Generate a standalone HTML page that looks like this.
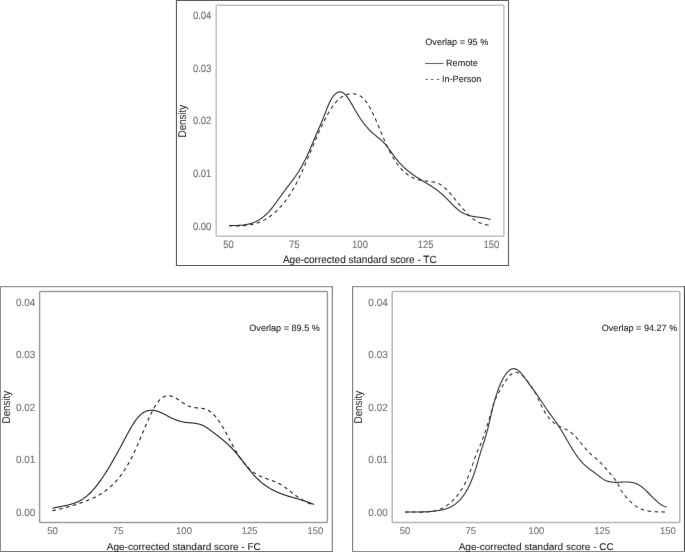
<!DOCTYPE html><html><head><meta charset="utf-8"><style>html,body{margin:0;padding:0;background:#fff;}svg{display:block;will-change:transform;}text{font-family:"Liberation Sans", sans-serif;text-rendering:geometricPrecision;}</style></head><body>
<svg width="685" height="552" viewBox="0 0 685 552">
<defs><filter id="bl" x="-2%" y="-2%" width="104%" height="104%" filterUnits="objectBoundingBox"><feConvolveMatrix order="3" kernelMatrix="0.00163 0.03713 0.00163 0.03713 0.84497 0.03713 0.00163 0.03713 0.00163" edgeMode="duplicate" preserveAlpha="false"/></filter></defs>
<rect x="0" y="0" width="685" height="552" fill="#fff"/>
<line x1="176.45" y1="0.0" x2="176.45" y2="265.95" stroke="#5e5e5e" stroke-width="1.15"/>
<line x1="175.95" y1="0.5" x2="509.0" y2="0.5" stroke="#5e5e5e" stroke-width="1.15"/>
<line x1="508.5" y1="0.0" x2="508.5" y2="265.95" stroke="#686868" stroke-width="1.15"/>
<line x1="175.95" y1="265.45" x2="509.0" y2="265.45" stroke="#5a5a5a" stroke-width="1.15"/>
<rect x="216.2" y="5.2" width="287.70" height="231.00" fill="none" stroke="#c2c2c2" stroke-width="1.5" rx="0.9"/>
<line x1="0.45" y1="286.1" x2="0.45" y2="552.0" stroke="#8e8e8e" stroke-width="1.15"/>
<line x1="-0.04999999999999999" y1="286.6" x2="332.8" y2="286.6" stroke="#989898" stroke-width="1.15"/>
<line x1="332.3" y1="286.1" x2="332.3" y2="552.0" stroke="#808080" stroke-width="1.15"/>
<line x1="-0.04999999999999999" y1="551.5" x2="332.8" y2="551.5" stroke="#7a7a7a" stroke-width="1.15"/>
<rect x="39.6" y="291.5" width="287.80" height="230.90" fill="none" stroke="#9e9e9e" stroke-width="1.5" rx="0.9"/>
<line x1="352.6" y1="286.1" x2="352.6" y2="552.0" stroke="#808080" stroke-width="1.15"/>
<line x1="352.1" y1="286.6" x2="685.0" y2="286.6" stroke="#989898" stroke-width="1.15"/>
<line x1="684.5" y1="286.1" x2="684.5" y2="552.0" stroke="#484848" stroke-width="1.15"/>
<line x1="352.1" y1="551.5" x2="685.0" y2="551.5" stroke="#8e8e8e" stroke-width="1.15"/>
<rect x="392.2" y="291.45" width="287.60" height="230.95" fill="none" stroke="#b8b8b8" stroke-width="1.5" rx="0.9"/>
<g filter="url(#bl)">
<g transform="translate(176,0)">
<text transform="translate(35.40,229.50) scale(1.0,1.12)" font-size="9.5" fill="#707070" stroke="#707070" stroke-width="0.1" text-anchor="end">0.00</text>
<text transform="translate(35.40,176.90) scale(1.0,1.12)" font-size="9.5" fill="#707070" stroke="#707070" stroke-width="0.1" text-anchor="end">0.01</text>
<text transform="translate(35.40,124.40) scale(1.0,1.12)" font-size="9.5" fill="#707070" stroke="#707070" stroke-width="0.1" text-anchor="end">0.02</text>
<text transform="translate(35.40,71.80) scale(1.0,1.12)" font-size="9.5" fill="#707070" stroke="#707070" stroke-width="0.1" text-anchor="end">0.03</text>
<text transform="translate(35.40,19.20) scale(1.0,1.12)" font-size="9.5" fill="#707070" stroke="#707070" stroke-width="0.1" text-anchor="end">0.04</text>
<text transform="translate(52.60,248.00) scale(1.0,1.12)" font-size="9.5" fill="#707070" stroke="#707070" stroke-width="0.1" text-anchor="middle">50</text>
<text transform="translate(118.30,248.00) scale(1.0,1.12)" font-size="9.5" fill="#707070" stroke="#707070" stroke-width="0.1" text-anchor="middle">75</text>
<text transform="translate(184.00,248.00) scale(1.0,1.12)" font-size="9.5" fill="#707070" stroke="#707070" stroke-width="0.1" text-anchor="middle">100</text>
<text transform="translate(249.70,248.00) scale(1.0,1.12)" font-size="9.5" fill="#707070" stroke="#707070" stroke-width="0.1" text-anchor="middle">125</text>
<text transform="translate(315.40,248.00) scale(1.0,1.12)" font-size="9.5" fill="#707070" stroke="#707070" stroke-width="0.1" text-anchor="middle">150</text>
<text transform="translate(183.80,263.10) scale(1.0,1.04)" font-size="10.0" fill="#222" stroke="#222" stroke-width="0.08" text-anchor="middle">Age-corrected standard score - TC</text>
<text transform="translate(9.8,121.1) rotate(-90) scale(1,1.15)" font-size="9.8" fill="#222" text-anchor="middle">Density</text>
<text transform="translate(249.30,45.10) scale(1.0,1.0)" font-size="9.1" fill="#222" stroke="#222" stroke-width="0.08" text-anchor="start">Overlap = 95 %</text>
<text transform="translate(249.30,65.80) scale(1.0,1.0)" font-size="9.1" fill="#222" stroke="#222" stroke-width="0.08" text-anchor="start">—— Remote</text>
<text transform="translate(249.30,81.90) scale(1.0,1.0)" font-size="9.1" fill="#222" stroke="#222" stroke-width="0.08" text-anchor="start">- - - In-Person</text>
</g>
<path d="M229.00,225.61 L229.50,225.60 L230.00,225.60 L230.50,225.59 L231.00,225.58 L231.50,225.58 L232.00,225.57 L232.50,225.56 L233.00,225.56 L233.50,225.55 L234.00,225.54 L234.50,225.53 L235.00,225.52 L235.50,225.51 L236.00,225.49 L236.50,225.48 L237.00,225.46 L237.50,225.44 L238.00,225.42 L238.50,225.40 L239.00,225.37 L239.50,225.34 L240.00,225.31 L240.50,225.27 L241.00,225.23 L241.50,225.19 L242.00,225.14 L242.50,225.09 L243.00,225.03 L243.50,224.97 L244.00,224.91 L244.50,224.84 L245.00,224.77 L245.50,224.69 L246.00,224.60 L246.50,224.51 L247.00,224.41 L247.50,224.31 L248.00,224.20 L248.50,224.09 L249.00,223.97 L249.50,223.84 L250.00,223.70 L250.50,223.56 L251.00,223.41 L251.50,223.25 L252.00,223.09 L252.50,222.92 L253.00,222.73 L253.50,222.55 L254.00,222.35 L254.50,222.14 L255.00,221.93 L255.50,221.70 L256.00,221.47 L256.50,221.22 L257.00,220.97 L257.50,220.71 L258.00,220.44 L258.50,220.15 L259.00,219.86 L259.50,219.56 L260.00,219.24 L260.50,218.92 L261.00,218.58 L261.50,218.23 L262.00,217.87 L262.50,217.50 L263.00,217.12 L263.50,216.72 L264.00,216.31 L264.50,215.89 L265.00,215.46 L265.50,215.01 L266.00,214.55 L266.50,214.08 L267.00,213.60 L267.50,213.10 L268.00,212.58 L268.50,212.06 L269.00,211.51 L269.50,210.96 L270.00,210.39 L270.50,209.80 L271.00,209.20 L271.50,208.59 L272.00,207.96 L272.50,207.32 L273.00,206.67 L273.50,206.02 L274.00,205.35 L274.50,204.68 L275.00,204.00 L275.50,203.31 L276.00,202.62 L276.50,201.93 L277.00,201.23 L277.50,200.54 L278.00,199.84 L278.50,199.14 L279.00,198.44 L279.50,197.74 L280.00,197.04 L280.50,196.34 L281.00,195.65 L281.50,194.95 L282.00,194.26 L282.50,193.58 L283.00,192.90 L283.50,192.22 L284.00,191.54 L284.50,190.88 L285.00,190.21 L285.50,189.56 L286.00,188.90 L286.50,188.25 L287.00,187.60 L287.50,186.95 L288.00,186.31 L288.50,185.66 L289.00,185.01 L289.50,184.37 L290.00,183.72 L290.50,183.06 L291.00,182.41 L291.50,181.75 L292.00,181.09 L292.50,180.42 L293.00,179.74 L293.50,179.06 L294.00,178.37 L294.50,177.68 L295.00,176.97 L295.50,176.26 L296.00,175.53 L296.50,174.80 L297.00,174.05 L297.50,173.29 L298.00,172.52 L298.50,171.74 L299.00,170.94 L299.50,170.13 L300.00,169.30 L300.50,168.46 L301.00,167.60 L301.50,166.72 L302.00,165.83 L302.50,164.92 L303.00,163.99 L303.50,163.05 L304.00,162.09 L304.50,161.12 L305.00,160.13 L305.50,159.12 L306.00,158.09 L306.50,157.05 L307.00,156.00 L307.50,154.92 L308.00,153.83 L308.50,152.72 L309.00,151.60 L309.50,150.46 L310.00,149.30 L310.50,148.13 L311.00,146.95 L311.50,145.76 L312.00,144.56 L312.50,143.36 L313.00,142.15 L313.50,140.95 L314.00,139.75 L314.50,138.55 L315.00,137.37 L315.50,136.19 L316.00,135.03 L316.50,133.87 L317.00,132.73 L317.50,131.59 L318.00,130.46 L318.50,129.33 L319.00,128.20 L319.50,127.06 L320.00,125.92 L320.50,124.78 L321.00,123.62 L321.50,122.45 L322.00,121.27 L322.50,120.07 L323.00,118.85 L323.50,117.60 L324.00,116.34 L324.50,115.05 L325.00,113.74 L325.50,112.43 L326.00,111.12 L326.50,109.81 L327.00,108.52 L327.50,107.26 L328.00,106.02 L328.50,104.82 L329.00,103.67 L329.50,102.57 L330.00,101.52 L330.50,100.54 L331.00,99.62 L331.50,98.76 L332.00,97.97 L332.50,97.24 L333.00,96.56 L333.50,95.93 L334.00,95.36 L334.50,94.83 L335.00,94.34 L335.50,93.89 L336.00,93.49 L336.50,93.13 L337.00,92.82 L337.50,92.55 L338.00,92.32 L338.50,92.14 L339.00,92.01 L339.50,91.92 L340.00,91.88 L340.50,91.90 L341.00,91.96 L341.50,92.07 L342.00,92.23 L342.50,92.45 L343.00,92.72 L343.50,93.04 L344.00,93.41 L344.50,93.84 L345.00,94.32 L345.50,94.84 L346.00,95.41 L346.50,96.02 L347.00,96.67 L347.50,97.35 L348.00,98.07 L348.50,98.82 L349.00,99.59 L349.50,100.38 L350.00,101.20 L350.50,102.04 L351.00,102.89 L351.50,103.75 L352.00,104.62 L352.50,105.50 L353.00,106.39 L353.50,107.27 L354.00,108.15 L354.50,109.03 L355.00,109.90 L355.50,110.75 L356.00,111.60 L356.50,112.44 L357.00,113.26 L357.50,114.08 L358.00,114.88 L358.50,115.68 L359.00,116.46 L359.50,117.23 L360.00,117.98 L360.50,118.73 L361.00,119.47 L361.50,120.19 L362.00,120.90 L362.50,121.60 L363.00,122.29 L363.50,122.96 L364.00,123.62 L364.50,124.27 L365.00,124.91 L365.50,125.53 L366.00,126.15 L366.50,126.75 L367.00,127.33 L367.50,127.90 L368.00,128.47 L368.50,129.01 L369.00,129.55 L369.50,130.07 L370.00,130.57 L370.50,131.07 L371.00,131.55 L371.50,132.01 L372.00,132.47 L372.50,132.92 L373.00,133.35 L373.50,133.78 L374.00,134.20 L374.50,134.62 L375.00,135.03 L375.50,135.44 L376.00,135.85 L376.50,136.25 L377.00,136.66 L377.50,137.06 L378.00,137.47 L378.50,137.88 L379.00,138.29 L379.50,138.71 L380.00,139.13 L380.50,139.57 L381.00,140.01 L381.50,140.46 L382.00,140.92 L382.50,141.39 L383.00,141.88 L383.50,142.38 L384.00,142.89 L384.50,143.42 L385.00,143.97 L385.50,144.54 L386.00,145.12 L386.50,145.72 L387.00,146.34 L387.50,146.98 L388.00,147.63 L388.50,148.29 L389.00,148.96 L389.50,149.64 L390.00,150.33 L390.50,151.02 L391.00,151.72 L391.50,152.42 L392.00,153.12 L392.50,153.82 L393.00,154.51 L393.50,155.21 L394.00,155.89 L394.50,156.57 L395.00,157.25 L395.50,157.91 L396.00,158.56 L396.50,159.19 L397.00,159.82 L397.50,160.43 L398.00,161.03 L398.50,161.61 L399.00,162.19 L399.50,162.75 L400.00,163.30 L400.50,163.84 L401.00,164.37 L401.50,164.89 L402.00,165.40 L402.50,165.91 L403.00,166.40 L403.50,166.88 L404.00,167.35 L404.50,167.82 L405.00,168.27 L405.50,168.72 L406.00,169.16 L406.50,169.59 L407.00,170.02 L407.50,170.44 L408.00,170.85 L408.50,171.25 L409.00,171.65 L409.50,172.05 L410.00,172.43 L410.50,172.81 L411.00,173.19 L411.50,173.56 L412.00,173.93 L412.50,174.29 L413.00,174.64 L413.50,174.99 L414.00,175.34 L414.50,175.68 L415.00,176.02 L415.50,176.36 L416.00,176.69 L416.50,177.02 L417.00,177.34 L417.50,177.66 L418.00,177.98 L418.50,178.30 L419.00,178.61 L419.50,178.93 L420.00,179.24 L420.50,179.55 L421.00,179.85 L421.50,180.16 L422.00,180.46 L422.50,180.77 L423.00,181.07 L423.50,181.38 L424.00,181.68 L424.50,181.98 L425.00,182.28 L425.50,182.59 L426.00,182.89 L426.50,183.20 L427.00,183.50 L427.50,183.81 L428.00,184.12 L428.50,184.43 L429.00,184.74 L429.50,185.05 L430.00,185.37 L430.50,185.69 L431.00,186.01 L431.50,186.33 L432.00,186.66 L432.50,186.99 L433.00,187.32 L433.50,187.66 L434.00,188.00 L434.50,188.35 L435.00,188.70 L435.50,189.05 L436.00,189.41 L436.50,189.77 L437.00,190.14 L437.50,190.51 L438.00,190.89 L438.50,191.28 L439.00,191.67 L439.50,192.07 L440.00,192.47 L440.50,192.88 L441.00,193.30 L441.50,193.72 L442.00,194.15 L442.50,194.59 L443.00,195.04 L443.50,195.49 L444.00,195.95 L444.50,196.42 L445.00,196.90 L445.50,197.38 L446.00,197.88 L446.50,198.38 L447.00,198.88 L447.50,199.39 L448.00,199.91 L448.50,200.42 L449.00,200.94 L449.50,201.46 L450.00,201.98 L450.50,202.50 L451.00,203.02 L451.50,203.54 L452.00,204.05 L452.50,204.56 L453.00,205.07 L453.50,205.57 L454.00,206.07 L454.50,206.55 L455.00,207.04 L455.50,207.51 L456.00,207.97 L456.50,208.42 L457.00,208.86 L457.50,209.29 L458.00,209.71 L458.50,210.11 L459.00,210.50 L459.50,210.88 L460.00,211.24 L460.50,211.58 L461.00,211.91 L461.50,212.22 L462.00,212.52 L462.50,212.81 L463.00,213.08 L463.50,213.34 L464.00,213.59 L464.50,213.82 L465.00,214.05 L465.50,214.26 L466.00,214.46 L466.50,214.65 L467.00,214.83 L467.50,215.01 L468.00,215.17 L468.50,215.32 L469.00,215.47 L469.50,215.60 L470.00,215.73 L470.50,215.86 L471.00,215.97 L471.50,216.08 L472.00,216.18 L472.50,216.28 L473.00,216.38 L473.50,216.46 L474.00,216.55 L474.50,216.63 L475.00,216.70 L475.50,216.78 L476.00,216.85 L476.50,216.92 L477.00,216.98 L477.50,217.05 L478.00,217.11 L478.50,217.18 L479.00,217.24 L479.50,217.30 L480.00,217.37 L480.50,217.43 L481.00,217.50 L481.50,217.56 L482.00,217.63 L482.50,217.71 L483.00,217.78 L483.50,217.86 L484.00,217.95 L484.50,218.03 L485.00,218.13 L485.50,218.22 L486.00,218.33 L486.50,218.43 L487.00,218.55 L487.50,218.67 L488.00,218.80 L488.50,218.93 L489.00,219.08 L489.50,219.23 L490.00,219.39 L490.50,219.56" fill="none" stroke="#2c2c2c" stroke-width="1.1" stroke-linejoin="round"/>
<path d="M229.00,225.56 L229.50,225.60 L230.00,225.63 L230.50,225.66 L231.00,225.69 L231.50,225.71 L232.00,225.74 L232.50,225.76 L233.00,225.79 L233.50,225.81 L234.00,225.83 L234.50,225.84 L235.00,225.86 L235.50,225.87 L236.00,225.88 L236.50,225.89 L237.00,225.90 L237.50,225.90 L238.00,225.90 L238.50,225.90 L239.00,225.89 L239.50,225.89 L240.00,225.88 L240.50,225.86 L241.00,225.85 L241.50,225.83 L242.00,225.80 L242.50,225.78 L243.00,225.75 L243.50,225.71 L244.00,225.67 L244.50,225.63 L245.00,225.59 L245.50,225.54 L246.00,225.49 L246.50,225.43 L247.00,225.37 L247.50,225.30 L248.00,225.23 L248.50,225.16 L249.00,225.08 L249.50,225.00 L250.00,224.91 L250.50,224.82 L251.00,224.72 L251.50,224.61 L252.00,224.51 L252.50,224.39 L253.00,224.27 L253.50,224.15 L254.00,224.02 L254.50,223.88 L255.00,223.74 L255.50,223.60 L256.00,223.44 L256.50,223.29 L257.00,223.12 L257.50,222.95 L258.00,222.77 L258.50,222.59 L259.00,222.40 L259.50,222.21 L260.00,222.00 L260.50,221.79 L261.00,221.58 L261.50,221.35 L262.00,221.12 L262.50,220.89 L263.00,220.64 L263.50,220.39 L264.00,220.13 L264.50,219.87 L265.00,219.59 L265.50,219.31 L266.00,219.03 L266.50,218.73 L267.00,218.42 L267.50,218.11 L268.00,217.79 L268.50,217.46 L269.00,217.13 L269.50,216.78 L270.00,216.43 L270.50,216.07 L271.00,215.70 L271.50,215.32 L272.00,214.93 L272.50,214.53 L273.00,214.13 L273.50,213.71 L274.00,213.29 L274.50,212.86 L275.00,212.42 L275.50,211.96 L276.00,211.50 L276.50,211.03 L277.00,210.55 L277.50,210.06 L278.00,209.56 L278.50,209.05 L279.00,208.53 L279.50,208.00 L280.00,207.46 L280.50,206.91 L281.00,206.35 L281.50,205.78 L282.00,205.20 L282.50,204.60 L283.00,204.00 L283.50,203.39 L284.00,202.76 L284.50,202.12 L285.00,201.47 L285.50,200.81 L286.00,200.14 L286.50,199.46 L287.00,198.76 L287.50,198.05 L288.00,197.33 L288.50,196.60 L289.00,195.85 L289.50,195.09 L290.00,194.32 L290.50,193.54 L291.00,192.74 L291.50,191.93 L292.00,191.11 L292.50,190.27 L293.00,189.42 L293.50,188.55 L294.00,187.67 L294.50,186.78 L295.00,185.87 L295.50,184.95 L296.00,184.02 L296.50,183.07 L297.00,182.10 L297.50,181.12 L298.00,180.13 L298.50,179.12 L299.00,178.10 L299.50,177.06 L300.00,176.00 L300.50,174.93 L301.00,173.85 L301.50,172.75 L302.00,171.65 L302.50,170.53 L303.00,169.40 L303.50,168.26 L304.00,167.11 L304.50,165.96 L305.00,164.79 L305.50,163.62 L306.00,162.45 L306.50,161.27 L307.00,160.08 L307.50,158.89 L308.00,157.70 L308.50,156.51 L309.00,155.31 L309.50,154.11 L310.00,152.92 L310.50,151.72 L311.00,150.52 L311.50,149.33 L312.00,148.14 L312.50,146.95 L313.00,145.76 L313.50,144.58 L314.00,143.40 L314.50,142.22 L315.00,141.05 L315.50,139.88 L316.00,138.72 L316.50,137.57 L317.00,136.42 L317.50,135.28 L318.00,134.14 L318.50,133.02 L319.00,131.90 L319.50,130.79 L320.00,129.69 L320.50,128.60 L321.00,127.52 L321.50,126.45 L322.00,125.39 L322.50,124.34 L323.00,123.31 L323.50,122.29 L324.00,121.28 L324.50,120.28 L325.00,119.30 L325.50,118.33 L326.00,117.37 L326.50,116.43 L327.00,115.51 L327.50,114.60 L328.00,113.71 L328.50,112.84 L329.00,111.98 L329.50,111.14 L330.00,110.32 L330.50,109.52 L331.00,108.73 L331.50,107.97 L332.00,107.23 L332.50,106.51 L333.00,105.80 L333.50,105.12 L334.00,104.47 L334.50,103.83 L335.00,103.22 L335.50,102.63 L336.00,102.06 L336.50,101.51 L337.00,100.98 L337.50,100.47 L338.00,99.99 L338.50,99.52 L339.00,99.08 L339.50,98.66 L340.00,98.25 L340.50,97.86 L341.00,97.50 L341.50,97.15 L342.00,96.82 L342.50,96.51 L343.00,96.22 L343.50,95.94 L344.00,95.69 L344.50,95.45 L345.00,95.22 L345.50,95.02 L346.00,94.83 L346.50,94.65 L347.00,94.50 L347.50,94.36 L348.00,94.23 L348.50,94.12 L349.00,94.02 L349.50,93.94 L350.00,93.88 L350.50,93.82 L351.00,93.78 L351.50,93.76 L352.00,93.75 L352.50,93.75 L353.00,93.76 L353.50,93.79 L354.00,93.84 L354.50,93.90 L355.00,93.97 L355.50,94.07 L356.00,94.18 L356.50,94.31 L357.00,94.46 L357.50,94.64 L358.00,94.83 L358.50,95.04 L359.00,95.28 L359.50,95.54 L360.00,95.83 L360.50,96.14 L361.00,96.48 L361.50,96.84 L362.00,97.24 L362.50,97.66 L363.00,98.11 L363.50,98.59 L364.00,99.10 L364.50,99.64 L365.00,100.22 L365.50,100.82 L366.00,101.47 L366.50,102.14 L367.00,102.86 L367.50,103.60 L368.00,104.38 L368.50,105.20 L369.00,106.04 L369.50,106.91 L370.00,107.81 L370.50,108.74 L371.00,109.69 L371.50,110.67 L372.00,111.67 L372.50,112.69 L373.00,113.74 L373.50,114.80 L374.00,115.88 L374.50,116.97 L375.00,118.09 L375.50,119.21 L376.00,120.35 L376.50,121.50 L377.00,122.66 L377.50,123.83 L378.00,125.00 L378.50,126.18 L379.00,127.37 L379.50,128.56 L380.00,129.75 L380.50,130.95 L381.00,132.14 L381.50,133.33 L382.00,134.52 L382.50,135.71 L383.00,136.88 L383.50,138.06 L384.00,139.22 L384.50,140.38 L385.00,141.52 L385.50,142.65 L386.00,143.77 L386.50,144.88 L387.00,145.97 L387.50,147.04 L388.00,148.09 L388.50,149.12 L389.00,150.14 L389.50,151.13 L390.00,152.10 L390.50,153.05 L391.00,153.97 L391.50,154.88 L392.00,155.77 L392.50,156.64 L393.00,157.48 L393.50,158.31 L394.00,159.12 L394.50,159.91 L395.00,160.68 L395.50,161.43 L396.00,162.16 L396.50,162.88 L397.00,163.58 L397.50,164.26 L398.00,164.92 L398.50,165.56 L399.00,166.19 L399.50,166.80 L400.00,167.39 L400.50,167.97 L401.00,168.53 L401.50,169.08 L402.00,169.61 L402.50,170.12 L403.00,170.62 L403.50,171.11 L404.00,171.57 L404.50,172.03 L405.00,172.47 L405.50,172.90 L406.00,173.31 L406.50,173.71 L407.00,174.09 L407.50,174.46 L408.00,174.82 L408.50,175.17 L409.00,175.50 L409.50,175.82 L410.00,176.13 L410.50,176.43 L411.00,176.71 L411.50,176.99 L412.00,177.25 L412.50,177.50 L413.00,177.74 L413.50,177.97 L414.00,178.20 L414.50,178.41 L415.00,178.61 L415.50,178.80 L416.00,178.98 L416.50,179.15 L417.00,179.32 L417.50,179.47 L418.00,179.62 L418.50,179.76 L419.00,179.89 L419.50,180.01 L420.00,180.12 L420.50,180.23 L421.00,180.33 L421.50,180.43 L422.00,180.51 L422.50,180.59 L423.00,180.67 L423.50,180.74 L424.00,180.80 L424.50,180.86 L425.00,180.92 L425.50,180.97 L426.00,181.02 L426.50,181.07 L427.00,181.11 L427.50,181.16 L428.00,181.21 L428.50,181.26 L429.00,181.31 L429.50,181.36 L430.00,181.42 L430.50,181.48 L431.00,181.54 L431.50,181.61 L432.00,181.69 L432.50,181.77 L433.00,181.87 L433.50,181.97 L434.00,182.07 L434.50,182.19 L435.00,182.32 L435.50,182.46 L436.00,182.62 L436.50,182.78 L437.00,182.96 L437.50,183.15 L438.00,183.36 L438.50,183.58 L439.00,183.82 L439.50,184.08 L440.00,184.35 L440.50,184.64 L441.00,184.95 L441.50,185.28 L442.00,185.63 L442.50,186.00 L443.00,186.39 L443.50,186.79 L444.00,187.20 L444.50,187.64 L445.00,188.08 L445.50,188.54 L446.00,189.02 L446.50,189.51 L447.00,190.01 L447.50,190.52 L448.00,191.04 L448.50,191.58 L449.00,192.12 L449.50,192.67 L450.00,193.23 L450.50,193.80 L451.00,194.38 L451.50,194.96 L452.00,195.55 L452.50,196.14 L453.00,196.74 L453.50,197.34 L454.00,197.95 L454.50,198.55 L455.00,199.16 L455.50,199.78 L456.00,200.39 L456.50,201.00 L457.00,201.62 L457.50,202.23 L458.00,202.85 L458.50,203.46 L459.00,204.07 L459.50,204.68 L460.00,205.29 L460.50,205.89 L461.00,206.49 L461.50,207.09 L462.00,207.68 L462.50,208.27 L463.00,208.86 L463.50,209.43 L464.00,210.01 L464.50,210.57 L465.00,211.13 L465.50,211.69 L466.00,212.23 L466.50,212.77 L467.00,213.29 L467.50,213.81 L468.00,214.32 L468.50,214.82 L469.00,215.31 L469.50,215.79 L470.00,216.26 L470.50,216.71 L471.00,217.16 L471.50,217.59 L472.00,218.01 L472.50,218.41 L473.00,218.80 L473.50,219.18 L474.00,219.54 L474.50,219.89 L475.00,220.22 L475.50,220.54 L476.00,220.85 L476.50,221.15 L477.00,221.43 L477.50,221.70 L478.00,221.96 L478.50,222.21 L479.00,222.45 L479.50,222.67 L480.00,222.88 L480.50,223.09 L481.00,223.28 L481.50,223.46 L482.00,223.64 L482.50,223.80 L483.00,223.96 L483.50,224.11 L484.00,224.24 L484.50,224.37 L485.00,224.49 L485.50,224.61 L486.00,224.72 L486.50,224.82 L487.00,224.91 L487.50,225.00 L488.00,225.08 L488.50,225.15 L489.00,225.22 L489.50,225.28 L490.00,225.34" fill="none" stroke="#2c2c2c" stroke-width="1.1" stroke-dasharray="3.6 3.4"/>
<g transform="translate(0,286)">
<text transform="translate(35.40,230.00) scale(1.05,1.1)" font-size="9.5" fill="#707070" stroke="#707070" stroke-width="0.1" text-anchor="end">0.00</text>
<text transform="translate(35.40,177.40) scale(1.05,1.1)" font-size="9.5" fill="#707070" stroke="#707070" stroke-width="0.1" text-anchor="end">0.01</text>
<text transform="translate(35.40,124.90) scale(1.05,1.1)" font-size="9.5" fill="#707070" stroke="#707070" stroke-width="0.1" text-anchor="end">0.02</text>
<text transform="translate(35.40,72.30) scale(1.05,1.1)" font-size="9.5" fill="#707070" stroke="#707070" stroke-width="0.1" text-anchor="end">0.03</text>
<text transform="translate(35.40,19.70) scale(1.05,1.1)" font-size="9.5" fill="#707070" stroke="#707070" stroke-width="0.1" text-anchor="end">0.04</text>
<text transform="translate(52.60,248.00) scale(1.0,1.03)" font-size="9.5" fill="#707070" stroke="#707070" stroke-width="0.1" text-anchor="middle">50</text>
<text transform="translate(118.30,248.00) scale(1.0,1.03)" font-size="9.5" fill="#707070" stroke="#707070" stroke-width="0.1" text-anchor="middle">75</text>
<text transform="translate(184.00,248.00) scale(1.0,1.03)" font-size="9.5" fill="#707070" stroke="#707070" stroke-width="0.1" text-anchor="middle">100</text>
<text transform="translate(249.70,248.00) scale(1.0,1.03)" font-size="9.5" fill="#707070" stroke="#707070" stroke-width="0.1" text-anchor="middle">125</text>
<text transform="translate(315.40,248.00) scale(1.0,1.03)" font-size="9.5" fill="#707070" stroke="#707070" stroke-width="0.1" text-anchor="middle">150</text>
<text transform="translate(183.80,263.70) scale(1.0,0.98)" font-size="10.0" fill="#222" stroke="#222" stroke-width="0.08" text-anchor="middle">Age-corrected standard score - FC</text>
<text transform="translate(9.8,121.1) rotate(-90) scale(1,1.15)" font-size="9.8" fill="#222" text-anchor="middle">Density</text>
<text transform="translate(249.30,45.10) scale(1.0,1.0)" font-size="9.1" fill="#222" stroke="#222" stroke-width="0.08" text-anchor="start">Overlap = 89.5 %</text>
</g>
<path d="M52.40,508.31 L52.90,508.18 L53.40,508.06 L53.90,507.94 L54.40,507.83 L54.90,507.71 L55.40,507.60 L55.90,507.50 L56.40,507.39 L56.90,507.29 L57.40,507.19 L57.90,507.09 L58.40,506.99 L58.90,506.90 L59.40,506.80 L59.90,506.71 L60.40,506.61 L60.90,506.52 L61.40,506.42 L61.90,506.33 L62.40,506.23 L62.90,506.13 L63.40,506.04 L63.90,505.94 L64.40,505.84 L64.90,505.74 L65.40,505.63 L65.90,505.53 L66.40,505.42 L66.90,505.31 L67.40,505.19 L67.90,505.07 L68.40,504.95 L68.90,504.83 L69.40,504.70 L69.90,504.57 L70.40,504.43 L70.90,504.29 L71.40,504.15 L71.90,504.00 L72.40,503.84 L72.90,503.68 L73.40,503.51 L73.90,503.34 L74.40,503.16 L74.90,502.97 L75.40,502.78 L75.90,502.58 L76.40,502.38 L76.90,502.16 L77.40,501.94 L77.90,501.71 L78.40,501.47 L78.90,501.23 L79.40,500.97 L79.90,500.71 L80.40,500.44 L80.90,500.16 L81.40,499.87 L81.90,499.57 L82.40,499.26 L82.90,498.94 L83.40,498.61 L83.90,498.26 L84.40,497.91 L84.90,497.55 L85.40,497.17 L85.90,496.79 L86.40,496.39 L86.90,495.98 L87.40,495.56 L87.90,495.12 L88.40,494.67 L88.90,494.21 L89.40,493.74 L89.90,493.26 L90.40,492.76 L90.90,492.26 L91.40,491.74 L91.90,491.21 L92.40,490.67 L92.90,490.12 L93.40,489.55 L93.90,488.98 L94.40,488.40 L94.90,487.80 L95.40,487.20 L95.90,486.58 L96.40,485.96 L96.90,485.32 L97.40,484.68 L97.90,484.03 L98.40,483.36 L98.90,482.69 L99.40,482.01 L99.90,481.32 L100.40,480.62 L100.90,479.91 L101.40,479.20 L101.90,478.47 L102.40,477.74 L102.90,477.00 L103.40,476.25 L103.90,475.49 L104.40,474.73 L104.90,473.96 L105.40,473.18 L105.90,472.40 L106.40,471.60 L106.90,470.81 L107.40,470.00 L107.90,469.19 L108.40,468.37 L108.90,467.54 L109.40,466.71 L109.90,465.88 L110.40,465.03 L110.90,464.19 L111.40,463.33 L111.90,462.48 L112.40,461.61 L112.90,460.74 L113.40,459.87 L113.90,458.99 L114.40,458.11 L114.90,457.22 L115.40,456.33 L115.90,455.43 L116.40,454.54 L116.90,453.63 L117.40,452.73 L117.90,451.82 L118.40,450.90 L118.90,449.99 L119.40,449.07 L119.90,448.14 L120.40,447.22 L120.90,446.29 L121.40,445.36 L121.90,444.43 L122.40,443.49 L122.90,442.55 L123.40,441.61 L123.90,440.67 L124.40,439.73 L124.90,438.78 L125.40,437.84 L125.90,436.89 L126.40,435.95 L126.90,435.01 L127.40,434.07 L127.90,433.14 L128.40,432.22 L128.90,431.30 L129.40,430.40 L129.90,429.51 L130.40,428.63 L130.90,427.76 L131.40,426.91 L131.90,426.08 L132.40,425.26 L132.90,424.46 L133.40,423.67 L133.90,422.90 L134.40,422.15 L134.90,421.42 L135.40,420.72 L135.90,420.03 L136.40,419.36 L136.90,418.72 L137.40,418.10 L137.90,417.50 L138.40,416.93 L138.90,416.38 L139.40,415.86 L139.90,415.36 L140.40,414.89 L140.90,414.44 L141.40,414.02 L141.90,413.63 L142.40,413.26 L142.90,412.91 L143.40,412.58 L143.90,412.28 L144.40,412.00 L144.90,411.74 L145.40,411.50 L145.90,411.29 L146.40,411.09 L146.90,410.92 L147.40,410.76 L147.90,410.63 L148.40,410.51 L148.90,410.42 L149.40,410.34 L149.90,410.28 L150.40,410.24 L150.90,410.21 L151.40,410.21 L151.90,410.21 L152.40,410.24 L152.90,410.28 L153.40,410.33 L153.90,410.41 L154.40,410.49 L154.90,410.59 L155.40,410.70 L155.90,410.82 L156.40,410.96 L156.90,411.11 L157.40,411.27 L157.90,411.43 L158.40,411.61 L158.90,411.80 L159.40,412.00 L159.90,412.20 L160.40,412.41 L160.90,412.63 L161.40,412.86 L161.90,413.09 L162.40,413.33 L162.90,413.57 L163.40,413.82 L163.90,414.07 L164.40,414.32 L164.90,414.58 L165.40,414.84 L165.90,415.10 L166.40,415.36 L166.90,415.62 L167.40,415.88 L167.90,416.14 L168.40,416.40 L168.90,416.66 L169.40,416.92 L169.90,417.17 L170.40,417.42 L170.90,417.67 L171.40,417.91 L171.90,418.14 L172.40,418.38 L172.90,418.60 L173.40,418.83 L173.90,419.04 L174.40,419.25 L174.90,419.46 L175.40,419.66 L175.90,419.85 L176.40,420.04 L176.90,420.22 L177.40,420.40 L177.90,420.57 L178.40,420.74 L178.90,420.90 L179.40,421.05 L179.90,421.20 L180.40,421.33 L180.90,421.47 L181.40,421.59 L181.90,421.71 L182.40,421.83 L182.90,421.93 L183.40,422.03 L183.90,422.12 L184.40,422.21 L184.90,422.28 L185.40,422.35 L185.90,422.42 L186.40,422.48 L186.90,422.53 L187.40,422.58 L187.90,422.63 L188.40,422.67 L188.90,422.71 L189.40,422.75 L189.90,422.79 L190.40,422.83 L190.90,422.87 L191.40,422.91 L191.90,422.95 L192.40,422.99 L192.90,423.04 L193.40,423.09 L193.90,423.14 L194.40,423.20 L194.90,423.26 L195.40,423.33 L195.90,423.41 L196.40,423.49 L196.90,423.59 L197.40,423.69 L197.90,423.80 L198.40,423.92 L198.90,424.05 L199.40,424.19 L199.90,424.34 L200.40,424.51 L200.90,424.69 L201.40,424.88 L201.90,425.09 L202.40,425.31 L202.90,425.54 L203.40,425.79 L203.90,426.05 L204.40,426.31 L204.90,426.59 L205.40,426.88 L205.90,427.18 L206.40,427.49 L206.90,427.81 L207.40,428.13 L207.90,428.47 L208.40,428.81 L208.90,429.15 L209.40,429.50 L209.90,429.86 L210.40,430.23 L210.90,430.59 L211.40,430.96 L211.90,431.34 L212.40,431.72 L212.90,432.09 L213.40,432.48 L213.90,432.86 L214.40,433.24 L214.90,433.63 L215.40,434.01 L215.90,434.39 L216.40,434.78 L216.90,435.17 L217.40,435.55 L217.90,435.94 L218.40,436.34 L218.90,436.73 L219.40,437.12 L219.90,437.52 L220.40,437.92 L220.90,438.32 L221.40,438.73 L221.90,439.14 L222.40,439.55 L222.90,439.96 L223.40,440.38 L223.90,440.80 L224.40,441.23 L224.90,441.66 L225.40,442.10 L225.90,442.54 L226.40,442.98 L226.90,443.44 L227.40,443.89 L227.90,444.35 L228.40,444.82 L228.90,445.30 L229.40,445.78 L229.90,446.26 L230.40,446.76 L230.90,447.26 L231.40,447.76 L231.90,448.28 L232.40,448.80 L232.90,449.33 L233.40,449.87 L233.90,450.41 L234.40,450.96 L234.90,451.53 L235.40,452.10 L235.90,452.68 L236.40,453.27 L236.90,453.86 L237.40,454.47 L237.90,455.08 L238.40,455.69 L238.90,456.32 L239.40,456.94 L239.90,457.58 L240.40,458.21 L240.90,458.85 L241.40,459.50 L241.90,460.15 L242.40,460.79 L242.90,461.44 L243.40,462.10 L243.90,462.75 L244.40,463.40 L244.90,464.05 L245.40,464.70 L245.90,465.35 L246.40,466.00 L246.90,466.65 L247.40,467.29 L247.90,467.93 L248.40,468.56 L248.90,469.19 L249.40,469.82 L249.90,470.44 L250.40,471.05 L250.90,471.66 L251.40,472.26 L251.90,472.85 L252.40,473.44 L252.90,474.01 L253.40,474.58 L253.90,475.13 L254.40,475.68 L254.90,476.22 L255.40,476.74 L255.90,477.26 L256.40,477.77 L256.90,478.27 L257.40,478.76 L257.90,479.24 L258.40,479.71 L258.90,480.17 L259.40,480.63 L259.90,481.07 L260.40,481.51 L260.90,481.94 L261.40,482.36 L261.90,482.77 L262.40,483.18 L262.90,483.57 L263.40,483.96 L263.90,484.34 L264.40,484.72 L264.90,485.09 L265.40,485.45 L265.90,485.80 L266.40,486.14 L266.90,486.48 L267.40,486.81 L267.90,487.14 L268.40,487.46 L268.90,487.77 L269.40,488.07 L269.90,488.37 L270.40,488.67 L270.90,488.95 L271.40,489.24 L271.90,489.51 L272.40,489.78 L272.90,490.05 L273.40,490.31 L273.90,490.56 L274.40,490.81 L274.90,491.05 L275.40,491.29 L275.90,491.53 L276.40,491.76 L276.90,491.98 L277.40,492.21 L277.90,492.42 L278.40,492.63 L278.90,492.84 L279.40,493.05 L279.90,493.25 L280.40,493.45 L280.90,493.64 L281.40,493.83 L281.90,494.02 L282.40,494.20 L282.90,494.38 L283.40,494.56 L283.90,494.73 L284.40,494.90 L284.90,495.07 L285.40,495.24 L285.90,495.41 L286.40,495.57 L286.90,495.73 L287.40,495.89 L287.90,496.04 L288.40,496.20 L288.90,496.35 L289.40,496.50 L289.90,496.65 L290.40,496.80 L290.90,496.95 L291.40,497.09 L291.90,497.24 L292.40,497.38 L292.90,497.53 L293.40,497.67 L293.90,497.81 L294.40,497.95 L294.90,498.10 L295.40,498.24 L295.90,498.38 L296.40,498.52 L296.90,498.66 L297.40,498.81 L297.90,498.95 L298.40,499.09 L298.90,499.24 L299.40,499.38 L299.90,499.53 L300.40,499.68 L300.90,499.83 L301.40,499.98 L301.90,500.13 L302.40,500.28 L302.90,500.43 L303.40,500.59 L303.90,500.75 L304.40,500.91 L304.90,501.07 L305.40,501.24 L305.90,501.40 L306.40,501.57 L306.90,501.74 L307.40,501.92 L307.90,502.10 L308.40,502.28 L308.90,502.46 L309.40,502.65 L309.90,502.84 L310.40,503.03 L310.90,503.23 L311.40,503.43 L311.90,503.64 L312.40,503.85 L312.90,504.06 L313.40,504.28 L313.90,504.50" fill="none" stroke="#1c1c1c" stroke-width="1.1" stroke-linejoin="round"/>
<path d="M52.40,510.71 L52.90,510.60 L53.40,510.50 L53.90,510.39 L54.40,510.28 L54.90,510.17 L55.40,510.06 L55.90,509.95 L56.40,509.84 L56.90,509.73 L57.40,509.62 L57.90,509.50 L58.40,509.39 L58.90,509.27 L59.40,509.15 L59.90,509.04 L60.40,508.92 L60.90,508.79 L61.40,508.67 L61.90,508.55 L62.40,508.42 L62.90,508.30 L63.40,508.17 L63.90,508.04 L64.40,507.92 L64.90,507.79 L65.40,507.65 L65.90,507.52 L66.40,507.39 L66.90,507.25 L67.40,507.11 L67.90,506.98 L68.40,506.84 L68.90,506.70 L69.40,506.55 L69.90,506.41 L70.40,506.27 L70.90,506.12 L71.40,505.97 L71.90,505.82 L72.40,505.67 L72.90,505.52 L73.40,505.37 L73.90,505.21 L74.40,505.06 L74.90,504.90 L75.40,504.74 L75.90,504.58 L76.40,504.42 L76.90,504.26 L77.40,504.09 L77.90,503.92 L78.40,503.76 L78.90,503.59 L79.40,503.42 L79.90,503.24 L80.40,503.07 L80.90,502.89 L81.40,502.72 L81.90,502.54 L82.40,502.35 L82.90,502.17 L83.40,501.99 L83.90,501.80 L84.40,501.61 L84.90,501.43 L85.40,501.23 L85.90,501.04 L86.40,500.85 L86.90,500.65 L87.40,500.45 L87.90,500.25 L88.40,500.05 L88.90,499.85 L89.40,499.64 L89.90,499.43 L90.40,499.22 L90.90,499.01 L91.40,498.79 L91.90,498.57 L92.40,498.35 L92.90,498.12 L93.40,497.89 L93.90,497.66 L94.40,497.42 L94.90,497.18 L95.40,496.93 L95.90,496.68 L96.40,496.43 L96.90,496.17 L97.40,495.91 L97.90,495.64 L98.40,495.37 L98.90,495.09 L99.40,494.80 L99.90,494.51 L100.40,494.22 L100.90,493.92 L101.40,493.61 L101.90,493.30 L102.40,492.98 L102.90,492.65 L103.40,492.32 L103.90,491.98 L104.40,491.63 L104.90,491.28 L105.40,490.92 L105.90,490.55 L106.40,490.17 L106.90,489.79 L107.40,489.40 L107.90,489.00 L108.40,488.59 L108.90,488.17 L109.40,487.75 L109.90,487.31 L110.40,486.87 L110.90,486.42 L111.40,485.96 L111.90,485.49 L112.40,485.01 L112.90,484.52 L113.40,484.02 L113.90,483.51 L114.40,482.99 L114.90,482.47 L115.40,481.93 L115.90,481.38 L116.40,480.82 L116.90,480.24 L117.40,479.66 L117.90,479.07 L118.40,478.46 L118.90,477.85 L119.40,477.22 L119.90,476.58 L120.40,475.92 L120.90,475.26 L121.40,474.58 L121.90,473.89 L122.40,473.19 L122.90,472.47 L123.40,471.74 L123.90,471.00 L124.40,470.24 L124.90,469.48 L125.40,468.69 L125.90,467.89 L126.40,467.08 L126.90,466.26 L127.40,465.41 L127.90,464.56 L128.40,463.69 L128.90,462.80 L129.40,461.90 L129.90,460.98 L130.40,460.05 L130.90,459.10 L131.40,458.14 L131.90,457.16 L132.40,456.16 L132.90,455.15 L133.40,454.12 L133.90,453.07 L134.40,452.01 L134.90,450.93 L135.40,449.84 L135.90,448.74 L136.40,447.62 L136.90,446.49 L137.40,445.35 L137.90,444.20 L138.40,443.04 L138.90,441.88 L139.40,440.70 L139.90,439.53 L140.40,438.34 L140.90,437.15 L141.40,435.96 L141.90,434.77 L142.40,433.57 L142.90,432.38 L143.40,431.18 L143.90,429.98 L144.40,428.79 L144.90,427.60 L145.40,426.42 L145.90,425.24 L146.40,424.06 L146.90,422.90 L147.40,421.74 L147.90,420.59 L148.40,419.46 L148.90,418.34 L149.40,417.24 L149.90,416.15 L150.40,415.07 L150.90,414.02 L151.40,412.99 L151.90,411.98 L152.40,410.99 L152.90,410.02 L153.40,409.08 L153.90,408.17 L154.40,407.28 L154.90,406.42 L155.40,405.60 L155.90,404.80 L156.40,404.04 L156.90,403.31 L157.40,402.62 L157.90,401.97 L158.40,401.35 L158.90,400.76 L159.40,400.22 L159.90,399.70 L160.40,399.22 L160.90,398.78 L161.40,398.36 L161.90,397.98 L162.40,397.64 L162.90,397.32 L163.40,397.03 L163.90,396.77 L164.40,396.55 L164.90,396.35 L165.40,396.18 L165.90,396.04 L166.40,395.92 L166.90,395.84 L167.40,395.77 L167.90,395.74 L168.40,395.73 L168.90,395.74 L169.40,395.78 L169.90,395.85 L170.40,395.93 L170.90,396.04 L171.40,396.17 L171.90,396.32 L172.40,396.49 L172.90,396.68 L173.40,396.89 L173.90,397.12 L174.40,397.36 L174.90,397.61 L175.40,397.88 L175.90,398.16 L176.40,398.46 L176.90,398.76 L177.40,399.07 L177.90,399.39 L178.40,399.72 L178.90,400.05 L179.40,400.39 L179.90,400.73 L180.40,401.07 L180.90,401.42 L181.40,401.76 L181.90,402.10 L182.40,402.45 L182.90,402.78 L183.40,403.12 L183.90,403.45 L184.40,403.77 L184.90,404.08 L185.40,404.39 L185.90,404.68 L186.40,404.97 L186.90,405.24 L187.40,405.50 L187.90,405.75 L188.40,405.98 L188.90,406.19 L189.40,406.39 L189.90,406.56 L190.40,406.73 L190.90,406.87 L191.40,407.01 L191.90,407.13 L192.40,407.24 L192.90,407.33 L193.40,407.42 L193.90,407.50 L194.40,407.57 L194.90,407.63 L195.40,407.69 L195.90,407.74 L196.40,407.79 L196.90,407.84 L197.40,407.88 L197.90,407.92 L198.40,407.97 L198.90,408.01 L199.40,408.06 L199.90,408.11 L200.40,408.16 L200.90,408.22 L201.40,408.29 L201.90,408.36 L202.40,408.44 L202.90,408.53 L203.40,408.63 L203.90,408.74 L204.40,408.87 L204.90,409.00 L205.40,409.15 L205.90,409.32 L206.40,409.50 L206.90,409.71 L207.40,409.92 L207.90,410.16 L208.40,410.42 L208.90,410.70 L209.40,411.00 L209.90,411.33 L210.40,411.68 L210.90,412.05 L211.40,412.45 L211.90,412.87 L212.40,413.32 L212.90,413.78 L213.40,414.27 L213.90,414.78 L214.40,415.32 L214.90,415.87 L215.40,416.44 L215.90,417.04 L216.40,417.65 L216.90,418.29 L217.40,418.94 L217.90,419.61 L218.40,420.30 L218.90,421.01 L219.40,421.73 L219.90,422.48 L220.40,423.24 L220.90,424.01 L221.40,424.81 L221.90,425.61 L222.40,426.44 L222.90,427.28 L223.40,428.13 L223.90,429.00 L224.40,429.88 L224.90,430.78 L225.40,431.68 L225.90,432.60 L226.40,433.52 L226.90,434.46 L227.40,435.40 L227.90,436.34 L228.40,437.29 L228.90,438.24 L229.40,439.20 L229.90,440.15 L230.40,441.10 L230.90,442.05 L231.40,443.00 L231.90,443.94 L232.40,444.88 L232.90,445.81 L233.40,446.72 L233.90,447.63 L234.40,448.53 L234.90,449.42 L235.40,450.29 L235.90,451.15 L236.40,451.99 L236.90,452.82 L237.40,453.63 L237.90,454.43 L238.40,455.22 L238.90,455.99 L239.40,456.74 L239.90,457.48 L240.40,458.21 L240.90,458.92 L241.40,459.62 L241.90,460.30 L242.40,460.97 L242.90,461.63 L243.40,462.27 L243.90,462.89 L244.40,463.51 L244.90,464.11 L245.40,464.69 L245.90,465.27 L246.40,465.83 L246.90,466.37 L247.40,466.90 L247.90,467.42 L248.40,467.93 L248.90,468.42 L249.40,468.90 L249.90,469.37 L250.40,469.82 L250.90,470.26 L251.40,470.68 L251.90,471.10 L252.40,471.50 L252.90,471.89 L253.40,472.26 L253.90,472.63 L254.40,472.98 L254.90,473.32 L255.40,473.64 L255.90,473.96 L256.40,474.26 L256.90,474.56 L257.40,474.84 L257.90,475.11 L258.40,475.38 L258.90,475.63 L259.40,475.88 L259.90,476.12 L260.40,476.35 L260.90,476.57 L261.40,476.79 L261.90,477.00 L262.40,477.20 L262.90,477.40 L263.40,477.60 L263.90,477.78 L264.40,477.97 L264.90,478.15 L265.40,478.33 L265.90,478.51 L266.40,478.68 L266.90,478.85 L267.40,479.02 L267.90,479.19 L268.40,479.36 L268.90,479.52 L269.40,479.69 L269.90,479.86 L270.40,480.03 L270.90,480.20 L271.40,480.37 L271.90,480.55 L272.40,480.73 L272.90,480.91 L273.40,481.10 L273.90,481.28 L274.40,481.48 L274.90,481.68 L275.40,481.88 L275.90,482.09 L276.40,482.31 L276.90,482.53 L277.40,482.76 L277.90,483.00 L278.40,483.24 L278.90,483.50 L279.40,483.76 L279.90,484.03 L280.40,484.31 L280.90,484.61 L281.40,484.91 L281.90,485.22 L282.40,485.54 L282.90,485.87 L283.40,486.20 L283.90,486.54 L284.40,486.89 L284.90,487.25 L285.40,487.61 L285.90,487.98 L286.40,488.35 L286.90,488.72 L287.40,489.10 L287.90,489.49 L288.40,489.87 L288.90,490.26 L289.40,490.65 L289.90,491.04 L290.40,491.43 L290.90,491.82 L291.40,492.21 L291.90,492.60 L292.40,492.99 L292.90,493.38 L293.40,493.76 L293.90,494.15 L294.40,494.52 L294.90,494.90 L295.40,495.27 L295.90,495.64 L296.40,496.00 L296.90,496.35 L297.40,496.70 L297.90,497.05 L298.40,497.38 L298.90,497.71 L299.40,498.04 L299.90,498.35 L300.40,498.67 L300.90,498.97 L301.40,499.27 L301.90,499.57 L302.40,499.86 L302.90,500.15 L303.40,500.43 L303.90,500.70 L304.40,500.98 L304.90,501.25 L305.40,501.51 L305.90,501.77 L306.40,502.03 L306.90,502.28 L307.40,502.53 L307.90,502.78 L308.40,503.02 L308.90,503.27 L309.40,503.51 L309.90,503.74 L310.40,503.98 L310.90,504.21 L311.40,504.45 L311.90,504.68 L312.40,504.91 L312.90,505.13 L313.40,505.36 L313.90,505.59" fill="none" stroke="#1c1c1c" stroke-width="1.1" stroke-dasharray="3.6 3.4"/>
<g transform="translate(352.4,286)">
<text transform="translate(35.40,230.00) scale(1.05,1.1)" font-size="9.5" fill="#707070" stroke="#707070" stroke-width="0.1" text-anchor="end">0.00</text>
<text transform="translate(35.40,177.40) scale(1.05,1.1)" font-size="9.5" fill="#707070" stroke="#707070" stroke-width="0.1" text-anchor="end">0.01</text>
<text transform="translate(35.40,124.90) scale(1.05,1.1)" font-size="9.5" fill="#707070" stroke="#707070" stroke-width="0.1" text-anchor="end">0.02</text>
<text transform="translate(35.40,72.30) scale(1.05,1.1)" font-size="9.5" fill="#707070" stroke="#707070" stroke-width="0.1" text-anchor="end">0.03</text>
<text transform="translate(35.40,19.70) scale(1.05,1.1)" font-size="9.5" fill="#707070" stroke="#707070" stroke-width="0.1" text-anchor="end">0.04</text>
<text transform="translate(52.60,248.00) scale(1.0,1.03)" font-size="9.5" fill="#707070" stroke="#707070" stroke-width="0.1" text-anchor="middle">50</text>
<text transform="translate(118.30,248.00) scale(1.0,1.03)" font-size="9.5" fill="#707070" stroke="#707070" stroke-width="0.1" text-anchor="middle">75</text>
<text transform="translate(184.00,248.00) scale(1.0,1.03)" font-size="9.5" fill="#707070" stroke="#707070" stroke-width="0.1" text-anchor="middle">100</text>
<text transform="translate(249.70,248.00) scale(1.0,1.03)" font-size="9.5" fill="#707070" stroke="#707070" stroke-width="0.1" text-anchor="middle">125</text>
<text transform="translate(315.40,248.00) scale(1.0,1.03)" font-size="9.5" fill="#707070" stroke="#707070" stroke-width="0.1" text-anchor="middle">150</text>
<text transform="translate(183.80,263.70) scale(1.0,0.98)" font-size="10.0" fill="#222" stroke="#222" stroke-width="0.08" text-anchor="middle">Age-corrected standard score - CC</text>
<text transform="translate(9.8,121.1) rotate(-90) scale(1,1.15)" font-size="9.8" fill="#222" text-anchor="middle">Density</text>
<text transform="translate(249.30,45.10) scale(1.0,1.0)" font-size="9.1" fill="#222" stroke="#222" stroke-width="0.08" text-anchor="start">Overlap = 94.27 %</text>
</g>
<path d="M405.20,512.02 L405.70,512.01 L406.20,512.01 L406.70,512.00 L407.20,512.00 L407.70,512.00 L408.20,511.99 L408.70,511.99 L409.20,511.99 L409.70,511.99 L410.20,511.99 L410.70,511.98 L411.20,511.98 L411.70,511.98 L412.20,511.98 L412.70,511.98 L413.20,511.98 L413.70,511.98 L414.20,511.98 L414.70,511.98 L415.20,511.98 L415.70,511.98 L416.20,511.98 L416.70,511.98 L417.20,511.97 L417.70,511.97 L418.20,511.97 L418.70,511.96 L419.20,511.96 L419.70,511.95 L420.20,511.95 L420.70,511.94 L421.20,511.93 L421.70,511.92 L422.20,511.91 L422.70,511.90 L423.20,511.88 L423.70,511.87 L424.20,511.85 L424.70,511.84 L425.20,511.82 L425.70,511.80 L426.20,511.78 L426.70,511.75 L427.20,511.73 L427.70,511.70 L428.20,511.67 L428.70,511.64 L429.20,511.61 L429.70,511.57 L430.20,511.54 L430.70,511.50 L431.20,511.46 L431.70,511.41 L432.20,511.37 L432.70,511.32 L433.20,511.27 L433.70,511.21 L434.20,511.16 L434.70,511.10 L435.20,511.04 L435.70,510.97 L436.20,510.90 L436.70,510.83 L437.20,510.76 L437.70,510.69 L438.20,510.61 L438.70,510.52 L439.20,510.44 L439.70,510.35 L440.20,510.26 L440.70,510.16 L441.20,510.06 L441.70,509.96 L442.20,509.85 L442.70,509.74 L443.20,509.62 L443.70,509.49 L444.20,509.36 L444.70,509.22 L445.20,509.08 L445.70,508.93 L446.20,508.77 L446.70,508.60 L447.20,508.42 L447.70,508.23 L448.20,508.04 L448.70,507.83 L449.20,507.62 L449.70,507.39 L450.20,507.16 L450.70,506.91 L451.20,506.65 L451.70,506.38 L452.20,506.10 L452.70,505.80 L453.20,505.49 L453.70,505.17 L454.20,504.83 L454.70,504.48 L455.20,504.11 L455.70,503.73 L456.20,503.34 L456.70,502.92 L457.20,502.49 L457.70,502.05 L458.20,501.59 L458.70,501.11 L459.20,500.61 L459.70,500.09 L460.20,499.56 L460.70,499.00 L461.20,498.43 L461.70,497.84 L462.20,497.22 L462.70,496.58 L463.20,495.91 L463.70,495.22 L464.20,494.51 L464.70,493.77 L465.20,493.00 L465.70,492.20 L466.20,491.37 L466.70,490.52 L467.20,489.63 L467.70,488.71 L468.20,487.75 L468.70,486.76 L469.20,485.74 L469.70,484.68 L470.20,483.58 L470.70,482.45 L471.20,481.28 L471.70,480.07 L472.20,478.81 L472.70,477.52 L473.20,476.18 L473.70,474.80 L474.20,473.38 L474.70,471.91 L475.20,470.39 L475.70,468.83 L476.20,467.22 L476.70,465.56 L477.20,463.86 L477.70,462.13 L478.20,460.39 L478.70,458.65 L479.20,456.93 L479.70,455.24 L480.20,453.60 L480.70,452.00 L481.20,450.45 L481.70,448.91 L482.20,447.40 L482.70,445.89 L483.20,444.38 L483.70,442.85 L484.20,441.29 L484.70,439.69 L485.20,438.06 L485.70,436.37 L486.20,434.64 L486.70,432.84 L487.20,430.98 L487.70,429.04 L488.20,427.03 L488.70,424.95 L489.20,422.82 L489.70,420.65 L490.20,418.46 L490.70,416.28 L491.20,414.11 L491.70,411.99 L492.20,409.93 L492.70,407.92 L493.20,405.96 L493.70,404.06 L494.20,402.22 L494.70,400.44 L495.20,398.71 L495.70,397.04 L496.20,395.42 L496.70,393.86 L497.20,392.36 L497.70,390.92 L498.20,389.53 L498.70,388.19 L499.20,386.91 L499.70,385.68 L500.20,384.49 L500.70,383.36 L501.20,382.27 L501.70,381.22 L502.20,380.22 L502.70,379.26 L503.20,378.34 L503.70,377.45 L504.20,376.61 L504.70,375.81 L505.20,375.06 L505.70,374.34 L506.20,373.66 L506.70,373.03 L507.20,372.44 L507.70,371.89 L508.20,371.38 L508.70,370.92 L509.20,370.49 L509.70,370.12 L510.20,369.78 L510.70,369.49 L511.20,369.24 L511.70,369.03 L512.20,368.87 L512.70,368.75 L513.20,368.68 L513.70,368.65 L514.20,368.67 L514.70,368.73 L515.20,368.84 L515.70,368.99 L516.20,369.19 L516.70,369.43 L517.20,369.72 L517.70,370.05 L518.20,370.42 L518.70,370.82 L519.20,371.26 L519.70,371.73 L520.20,372.23 L520.70,372.76 L521.20,373.32 L521.70,373.90 L522.20,374.51 L522.70,375.13 L523.20,375.77 L523.70,376.43 L524.20,377.10 L524.70,377.78 L525.20,378.48 L525.70,379.18 L526.20,379.88 L526.70,380.59 L527.20,381.31 L527.70,382.02 L528.20,382.72 L528.70,383.42 L529.20,384.12 L529.70,384.81 L530.20,385.49 L530.70,386.17 L531.20,386.84 L531.70,387.52 L532.20,388.19 L532.70,388.86 L533.20,389.53 L533.70,390.20 L534.20,390.88 L534.70,391.56 L535.20,392.24 L535.70,392.93 L536.20,393.63 L536.70,394.33 L537.20,395.05 L537.70,395.77 L538.20,396.50 L538.70,397.23 L539.20,397.97 L539.70,398.72 L540.20,399.47 L540.70,400.22 L541.20,400.97 L541.70,401.73 L542.20,402.49 L542.70,403.24 L543.20,404.00 L543.70,404.76 L544.20,405.51 L544.70,406.26 L545.20,407.00 L545.70,407.75 L546.20,408.48 L546.70,409.21 L547.20,409.94 L547.70,410.65 L548.20,411.36 L548.70,412.06 L549.20,412.76 L549.70,413.45 L550.20,414.13 L550.70,414.82 L551.20,415.50 L551.70,416.17 L552.20,416.85 L552.70,417.53 L553.20,418.21 L553.70,418.90 L554.20,419.58 L554.70,420.28 L555.20,420.97 L555.70,421.68 L556.20,422.39 L556.70,423.11 L557.20,423.84 L557.70,424.58 L558.20,425.33 L558.70,426.10 L559.20,426.88 L559.70,427.67 L560.20,428.47 L560.70,429.28 L561.20,430.09 L561.70,430.92 L562.20,431.76 L562.70,432.60 L563.20,433.45 L563.70,434.30 L564.20,435.16 L564.70,436.02 L565.20,436.88 L565.70,437.75 L566.20,438.61 L566.70,439.48 L567.20,440.35 L567.70,441.22 L568.20,442.08 L568.70,442.95 L569.20,443.81 L569.70,444.66 L570.20,445.51 L570.70,446.35 L571.20,447.19 L571.70,448.02 L572.20,448.84 L572.70,449.65 L573.20,450.45 L573.70,451.24 L574.20,452.02 L574.70,452.78 L575.20,453.53 L575.70,454.26 L576.20,454.98 L576.70,455.69 L577.20,456.38 L577.70,457.05 L578.20,457.72 L578.70,458.36 L579.20,458.99 L579.70,459.61 L580.20,460.21 L580.70,460.80 L581.20,461.38 L581.70,461.94 L582.20,462.49 L582.70,463.02 L583.20,463.55 L583.70,464.05 L584.20,464.55 L584.70,465.03 L585.20,465.50 L585.70,465.96 L586.20,466.40 L586.70,466.83 L587.20,467.25 L587.70,467.66 L588.20,468.06 L588.70,468.45 L589.20,468.83 L589.70,469.21 L590.20,469.58 L590.70,469.94 L591.20,470.30 L591.70,470.66 L592.20,471.01 L592.70,471.37 L593.20,471.72 L593.70,472.07 L594.20,472.43 L594.70,472.79 L595.20,473.15 L595.70,473.51 L596.20,473.88 L596.70,474.26 L597.20,474.64 L597.70,475.04 L598.20,475.43 L598.70,475.83 L599.20,476.23 L599.70,476.63 L600.20,477.03 L600.70,477.42 L601.20,477.79 L601.70,478.16 L602.20,478.51 L602.70,478.84 L603.20,479.16 L603.70,479.46 L604.20,479.74 L604.70,480.00 L605.20,480.24 L605.70,480.47 L606.20,480.68 L606.70,480.88 L607.20,481.06 L607.70,481.22 L608.20,481.38 L608.70,481.52 L609.20,481.64 L609.70,481.76 L610.20,481.86 L610.70,481.95 L611.20,482.03 L611.70,482.10 L612.20,482.16 L612.70,482.21 L613.20,482.26 L613.70,482.29 L614.20,482.32 L614.70,482.34 L615.20,482.35 L615.70,482.36 L616.20,482.36 L616.70,482.35 L617.20,482.34 L617.70,482.33 L618.20,482.31 L618.70,482.30 L619.20,482.27 L619.70,482.25 L620.20,482.22 L620.70,482.20 L621.20,482.17 L621.70,482.15 L622.20,482.12 L622.70,482.09 L623.20,482.07 L623.70,482.05 L624.20,482.03 L624.70,482.02 L625.20,482.01 L625.70,482.00 L626.20,482.00 L626.70,482.00 L627.20,482.01 L627.70,482.02 L628.20,482.04 L628.70,482.07 L629.20,482.10 L629.70,482.15 L630.20,482.20 L630.70,482.26 L631.20,482.33 L631.70,482.41 L632.20,482.50 L632.70,482.60 L633.20,482.72 L633.70,482.84 L634.20,482.98 L634.70,483.13 L635.20,483.30 L635.70,483.48 L636.20,483.67 L636.70,483.88 L637.20,484.10 L637.70,484.34 L638.20,484.59 L638.70,484.87 L639.20,485.16 L639.70,485.47 L640.20,485.79 L640.70,486.13 L641.20,486.49 L641.70,486.87 L642.20,487.25 L642.70,487.66 L643.20,488.07 L643.70,488.50 L644.20,488.93 L644.70,489.38 L645.20,489.84 L645.70,490.31 L646.20,490.78 L646.70,491.26 L647.20,491.75 L647.70,492.24 L648.20,492.74 L648.70,493.24 L649.20,493.75 L649.70,494.25 L650.20,494.76 L650.70,495.27 L651.20,495.78 L651.70,496.29 L652.20,496.80 L652.70,497.30 L653.20,497.80 L653.70,498.30 L654.20,498.79 L654.70,499.28 L655.20,499.76 L655.70,500.23 L656.20,500.69 L656.70,501.15 L657.20,501.60 L657.70,502.03 L658.20,502.45 L658.70,502.87 L659.20,503.26 L659.70,503.65 L660.20,504.02 L660.70,504.37 L661.20,504.71 L661.70,505.03 L662.20,505.34 L662.70,505.62 L663.20,505.89 L663.70,506.13 L664.20,506.36 L664.70,506.56 L665.20,506.74 L665.70,506.90 L666.20,507.03 L666.70,507.14" fill="none" stroke="#333333" stroke-width="1.1" stroke-linejoin="round"/>
<path d="M405.20,512.19 L405.70,512.15 L406.20,512.12 L406.70,512.09 L407.20,512.07 L407.70,512.05 L408.20,512.03 L408.70,512.01 L409.20,512.00 L409.70,511.99 L410.20,511.99 L410.70,511.98 L411.20,511.98 L411.70,511.98 L412.20,511.98 L412.70,511.99 L413.20,511.99 L413.70,512.00 L414.20,512.00 L414.70,512.01 L415.20,512.02 L415.70,512.03 L416.20,512.04 L416.70,512.04 L417.20,512.05 L417.70,512.06 L418.20,512.07 L418.70,512.08 L419.20,512.08 L419.70,512.09 L420.20,512.09 L420.70,512.10 L421.20,512.10 L421.70,512.10 L422.20,512.09 L422.70,512.09 L423.20,512.08 L423.70,512.07 L424.20,512.06 L424.70,512.04 L425.20,512.03 L425.70,512.00 L426.20,511.98 L426.70,511.95 L427.20,511.92 L427.70,511.88 L428.20,511.84 L428.70,511.79 L429.20,511.74 L429.70,511.69 L430.20,511.63 L430.70,511.57 L431.20,511.49 L431.70,511.42 L432.20,511.34 L432.70,511.25 L433.20,511.16 L433.70,511.06 L434.20,510.95 L434.70,510.84 L435.20,510.72 L435.70,510.59 L436.20,510.46 L436.70,510.32 L437.20,510.17 L437.70,510.01 L438.20,509.85 L438.70,509.67 L439.20,509.49 L439.70,509.30 L440.20,509.10 L440.70,508.90 L441.20,508.68 L441.70,508.45 L442.20,508.22 L442.70,507.97 L443.20,507.71 L443.70,507.45 L444.20,507.17 L444.70,506.88 L445.20,506.58 L445.70,506.27 L446.20,505.95 L446.70,505.62 L447.20,505.28 L447.70,504.92 L448.20,504.55 L448.70,504.17 L449.20,503.78 L449.70,503.38 L450.20,502.96 L450.70,502.53 L451.20,502.08 L451.70,501.62 L452.20,501.15 L452.70,500.67 L453.20,500.17 L453.70,499.65 L454.20,499.12 L454.70,498.58 L455.20,498.02 L455.70,497.45 L456.20,496.86 L456.70,496.26 L457.20,495.64 L457.70,495.00 L458.20,494.35 L458.70,493.68 L459.20,493.00 L459.70,492.29 L460.20,491.57 L460.70,490.82 L461.20,490.05 L461.70,489.26 L462.20,488.45 L462.70,487.61 L463.20,486.75 L463.70,485.86 L464.20,484.95 L464.70,484.00 L465.20,483.03 L465.70,482.03 L466.20,480.99 L466.70,479.92 L467.20,478.82 L467.70,477.69 L468.20,476.52 L468.70,475.32 L469.20,474.08 L469.70,472.80 L470.20,471.48 L470.70,470.12 L471.20,468.72 L471.70,467.29 L472.20,465.84 L472.70,464.37 L473.20,462.89 L473.70,461.41 L474.20,459.95 L474.70,458.51 L475.20,457.10 L475.70,455.72 L476.20,454.40 L476.70,453.13 L477.20,451.93 L477.70,450.79 L478.20,449.70 L478.70,448.63 L479.20,447.57 L479.70,446.51 L480.20,445.41 L480.70,444.26 L481.20,443.05 L481.70,441.77 L482.20,440.42 L482.70,439.02 L483.20,437.58 L483.70,436.10 L484.20,434.60 L484.70,433.09 L485.20,431.57 L485.70,430.06 L486.20,428.53 L486.70,427.00 L487.20,425.44 L487.70,423.86 L488.20,422.25 L488.70,420.60 L489.20,418.90 L489.70,417.17 L490.20,415.40 L490.70,413.63 L491.20,411.87 L491.70,410.13 L492.20,408.43 L492.70,406.78 L493.20,405.21 L493.70,403.72 L494.20,402.32 L494.70,401.01 L495.20,399.78 L495.70,398.61 L496.20,397.50 L496.70,396.45 L497.20,395.45 L497.70,394.48 L498.20,393.55 L498.70,392.64 L499.20,391.75 L499.70,390.87 L500.20,389.99 L500.70,389.11 L501.20,388.24 L501.70,387.38 L502.20,386.52 L502.70,385.68 L503.20,384.84 L503.70,384.02 L504.20,383.21 L504.70,382.42 L505.20,381.64 L505.70,380.89 L506.20,380.15 L506.70,379.44 L507.20,378.75 L507.70,378.09 L508.20,377.46 L508.70,376.85 L509.20,376.28 L509.70,375.74 L510.20,375.23 L510.70,374.76 L511.20,374.33 L511.70,373.93 L512.20,373.58 L512.70,373.27 L513.20,373.00 L513.70,372.78 L514.20,372.61 L514.70,372.48 L515.20,372.41 L515.70,372.38 L516.20,372.39 L516.70,372.45 L517.20,372.55 L517.70,372.69 L518.20,372.87 L518.70,373.09 L519.20,373.34 L519.70,373.63 L520.20,373.94 L520.70,374.29 L521.20,374.67 L521.70,375.07 L522.20,375.50 L522.70,375.96 L523.20,376.44 L523.70,376.93 L524.20,377.45 L524.70,377.98 L525.20,378.54 L525.70,379.10 L526.20,379.68 L526.70,380.28 L527.20,380.89 L527.70,381.51 L528.20,382.15 L528.70,382.80 L529.20,383.46 L529.70,384.14 L530.20,384.83 L530.70,385.54 L531.20,386.25 L531.70,386.99 L532.20,387.73 L532.70,388.48 L533.20,389.25 L533.70,390.03 L534.20,390.83 L534.70,391.66 L535.20,392.51 L535.70,393.41 L536.20,394.36 L536.70,395.36 L537.20,396.43 L537.70,397.55 L538.20,398.71 L538.70,399.88 L539.20,401.04 L539.70,402.18 L540.20,403.29 L540.70,404.36 L541.20,405.41 L541.70,406.42 L542.20,407.40 L542.70,408.35 L543.20,409.27 L543.70,410.16 L544.20,411.02 L544.70,411.85 L545.20,412.66 L545.70,413.44 L546.20,414.19 L546.70,414.92 L547.20,415.62 L547.70,416.30 L548.20,416.95 L548.70,417.58 L549.20,418.19 L549.70,418.77 L550.20,419.33 L550.70,419.87 L551.20,420.39 L551.70,420.89 L552.20,421.36 L552.70,421.82 L553.20,422.26 L553.70,422.69 L554.20,423.09 L554.70,423.48 L555.20,423.85 L555.70,424.21 L556.20,424.55 L556.70,424.87 L557.20,425.18 L557.70,425.48 L558.20,425.76 L558.70,426.04 L559.20,426.30 L559.70,426.55 L560.20,426.79 L560.70,427.02 L561.20,427.25 L561.70,427.47 L562.20,427.69 L562.70,427.91 L563.20,428.13 L563.70,428.35 L564.20,428.57 L564.70,428.80 L565.20,429.03 L565.70,429.27 L566.20,429.51 L566.70,429.76 L567.20,430.03 L567.70,430.30 L568.20,430.59 L568.70,430.90 L569.20,431.22 L569.70,431.56 L570.20,431.91 L570.70,432.29 L571.20,432.68 L571.70,433.09 L572.20,433.52 L572.70,433.97 L573.20,434.43 L573.70,434.91 L574.20,435.40 L574.70,435.90 L575.20,436.42 L575.70,436.95 L576.20,437.49 L576.70,438.04 L577.20,438.60 L577.70,439.18 L578.20,439.76 L578.70,440.34 L579.20,440.94 L579.70,441.54 L580.20,442.15 L580.70,442.76 L581.20,443.38 L581.70,443.99 L582.20,444.61 L582.70,445.23 L583.20,445.85 L583.70,446.46 L584.20,447.07 L584.70,447.67 L585.20,448.26 L585.70,448.85 L586.20,449.43 L586.70,449.99 L587.20,450.55 L587.70,451.09 L588.20,451.62 L588.70,452.13 L589.20,452.62 L589.70,453.11 L590.20,453.57 L590.70,454.03 L591.20,454.47 L591.70,454.91 L592.20,455.34 L592.70,455.76 L593.20,456.18 L593.70,456.60 L594.20,457.01 L594.70,457.42 L595.20,457.83 L595.70,458.25 L596.20,458.67 L596.70,459.09 L597.20,459.52 L597.70,459.96 L598.20,460.41 L598.70,460.87 L599.20,461.34 L599.70,461.82 L600.20,462.32 L600.70,462.83 L601.20,463.35 L601.70,463.88 L602.20,464.42 L602.70,464.96 L603.20,465.52 L603.70,466.08 L604.20,466.65 L604.70,467.23 L605.20,467.81 L605.70,468.39 L606.20,468.97 L606.70,469.56 L607.20,470.14 L607.70,470.73 L608.20,471.32 L608.70,471.90 L609.20,472.48 L609.70,473.06 L610.20,473.63 L610.70,474.20 L611.20,474.77 L611.70,475.33 L612.20,475.91 L612.70,476.49 L613.20,477.09 L613.70,477.70 L614.20,478.33 L614.70,478.98 L615.20,479.66 L615.70,480.37 L616.20,481.12 L616.70,481.90 L617.20,482.72 L617.70,483.59 L618.20,484.51 L618.70,485.48 L619.20,486.50 L619.70,487.55 L620.20,488.59 L620.70,489.58 L621.20,490.48 L621.70,491.30 L622.20,492.05 L622.70,492.74 L623.20,493.40 L623.70,494.03 L624.20,494.64 L624.70,495.25 L625.20,495.86 L625.70,496.45 L626.20,497.04 L626.70,497.63 L627.20,498.20 L627.70,498.76 L628.20,499.32 L628.70,499.86 L629.20,500.39 L629.70,500.91 L630.20,501.41 L630.70,501.90 L631.20,502.38 L631.70,502.84 L632.20,503.29 L632.70,503.72 L633.20,504.14 L633.70,504.54 L634.20,504.92 L634.70,505.30 L635.20,505.66 L635.70,506.00 L636.20,506.34 L636.70,506.66 L637.20,506.96 L637.70,507.26 L638.20,507.54 L638.70,507.81 L639.20,508.07 L639.70,508.32 L640.20,508.56 L640.70,508.78 L641.20,509.00 L641.70,509.20 L642.20,509.40 L642.70,509.58 L643.20,509.76 L643.70,509.93 L644.20,510.08 L644.70,510.23 L645.20,510.37 L645.70,510.50 L646.20,510.63 L646.70,510.74 L647.20,510.85 L647.70,510.95 L648.20,511.05 L648.70,511.13 L649.20,511.21 L649.70,511.29 L650.20,511.36 L650.70,511.42 L651.20,511.48 L651.70,511.53 L652.20,511.58 L652.70,511.62 L653.20,511.66 L653.70,511.70 L654.20,511.73 L654.70,511.75 L655.20,511.78 L655.70,511.80 L656.20,511.82 L656.70,511.83 L657.20,511.85 L657.70,511.86 L658.20,511.87 L658.70,511.88 L659.20,511.88 L659.70,511.89 L660.20,511.89 L660.70,511.90 L661.20,511.90 L661.70,511.91 L662.20,511.91 L662.70,511.92 L663.20,511.92 L663.70,511.93 L664.20,511.94 L664.70,511.95 L665.20,511.96 L665.70,511.98 L666.20,512.00 L666.70,512.01" fill="none" stroke="#333333" stroke-width="1.1" stroke-dasharray="3.6 3.4"/>
</g>
</svg></body></html>
